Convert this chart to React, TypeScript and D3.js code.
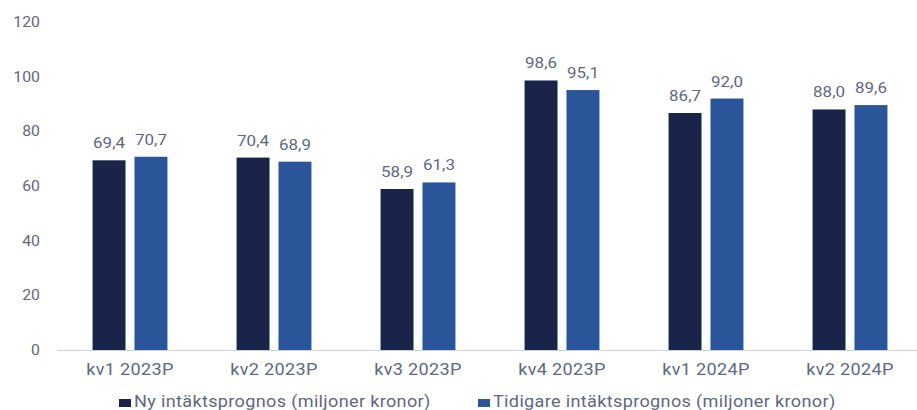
import React from "react";
import * as d3 from "d3";

const categories = ["kv1 2023P", "kv2 2023P", "kv3 2023P", "kv4 2023P", "kv1 2024P", "kv2 2024P"];
const seriesNames = ["Ny intäktsprognos (miljoner kronor)", "Tidigare intäktsprognos (miljoner kronor)"];
const nyValues = [69.4, 70.4, 58.9, 98.6, 86.7, 88.0];
const tidigareValues = [70.7, 68.9, 61.3, 95.1, 92.0, 89.6];
const yTicks = [0, 20, 40, 60, 80, 100, 120];
const colors = ["#18244a", "#2a5598"];

const W = 917;
const H = 410;
const FONT = "Roboto, 'Open Sans', sans-serif";
const TEXT = "#5f6880";
const SX = 1.13;

function T({ x, y, size, anchor, children, ls = 0, fill = TEXT }: any) {
  return (
    <text
      transform={`translate(${x},${y}) scale(${SX},1)`}
      fontSize={size}
      textAnchor={anchor}
      fill={fill}
      fontFamily={FONT}
      letterSpacing={ls}
    >
      {children}
    </text>
  );
}

export default function App() {
  const y = d3.scaleLinear().domain([0, 120]).range([350, 22]);
  const x0 = d3.scaleBand<string>().domain(categories).range([58, 922]).paddingInner(0.48).paddingOuter(0.24);
  const x1 = d3.scaleBand<number>().domain([0, 1]).range([0, x0.bandwidth()]).paddingInner(0.214).paddingOuter(0);
  const series = [nyValues, tidigareValues];
  const fmt = (v: number) => v.toFixed(1).replace(".", ",");

  return (
    <svg width={W} height={H} style={{ position: "absolute", left: 0, top: 0, background: "#fff" }}>
      {yTicks.map((t) => (
        <T key={t} x={40} y={y(t) + 5} size={14} anchor="end">
          {t}
        </T>
      ))}
      {series.map((vals, si) =>
        vals.map((v, i) => {
          const bx = (x0(categories[i]) as number) + (x1(si) as number);
          return (
            <g key={`${si}-${i}`}>
              <rect x={bx} y={y(v)} width={x1.bandwidth()} height={y(0) - y(v)} fill={colors[si]} />
              <T x={bx + x1.bandwidth() / 2} y={y(v) - 12} size={15} anchor="middle">
                {fmt(v)}
              </T>
            </g>
          );
        })
      )}
      <line x1={57} x2={W} y1={y(0) + 0.5} y2={y(0) + 0.5} stroke="#cdd1d9" strokeWidth={1} />
      {categories.map((c) => (
        <T key={c} x={(x0(c) as number) + x0.bandwidth() / 2} y={375} size={16} anchor="middle" ls={0.3}>
          {c}
        </T>
      ))}
      <rect x={119} y={399} width={12} height={8} fill={colors[0]} />
      <T x={134} y={407} size={16} anchor="start" ls={0.3}>{seriesNames[0]}</T>
      <rect x={478} y={399} width={12} height={8} fill={colors[1]} />
      <T x={493} y={407} size={16} anchor="start" ls={0.3}>{seriesNames[1]}</T>
    </svg>
  );
}
